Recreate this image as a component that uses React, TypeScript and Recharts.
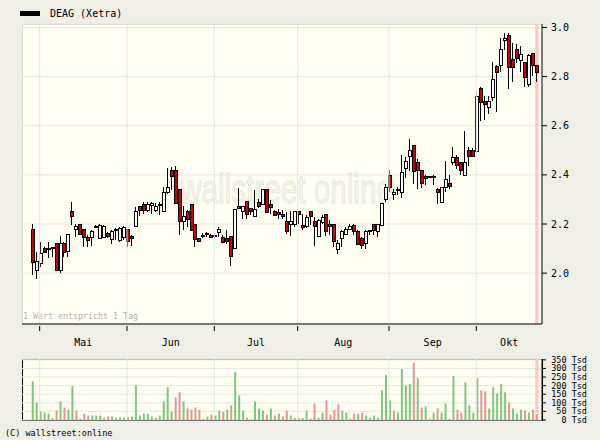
import React from 'react';
import {
  ComposedChart,
  Bar,
  XAxis,
  YAxis,
  CartesianGrid,
  ReferenceLine,
  ReferenceArea,
  Cell,
} from 'recharts';

// Tageskerzen DEAG (Xetra), ein Wert pro Handelstag
const opens = [
  2.178, 2.009, 2.039, 2.1, 2.101, 2.103, 2.12, 2.012, 2.12, 2.089,
  2.252, 2.177, 2.198, 2.177, 2.145, 2.147, 2.191, 2.141, 2.147, 2.161,
  2.138, 2.178, 2.131, 2.147, 2.177, 2.15, 2.188, 2.272, 2.279, 2.256,
  2.276, 2.253, 2.281, 2.249, 2.327, 2.418, 2.418, 2.34, 2.211, 2.252,
  2.279, 2.198, 2.141, 2.153, 2.156, 2.153, 2.153, 2.165, 2.147, 2.143,
  2.15, 2.1, 2.272, 2.251, 2.291, 2.264, 2.231, 2.288, 2.28, 2.339,
  2.279, 2.251, 2.245, 2.239, 2.211, 2.198, 2.198, 2.249, 2.195, 2.188,
  2.249, 2.211, 2.15, 2.208, 2.238, 2.198, 2.198, 2.097, 2.141, 2.157,
  2.177, 2.195, 2.17, 2.141, 2.12, 2.168, 2.198, 2.168, 2.195, 2.3,
  2.398, 2.319, 2.342, 2.327, 2.427, 2.476, 2.519, 2.452, 2.417, 2.394,
  2.388, 2.388, 2.341, 2.287, 2.348, 2.364, 2.449, 2.469, 2.452, 2.398,
  2.498, 2.498, 2.496, 2.753, 2.698, 2.675, 2.715, 2.841, 2.847, 2.945,
  2.968, 2.868, 2.909, 2.867, 2.857, 2.766, 2.895, 2.847,
];
const highs = [
  2.199, 2.086, 2.127, 2.107, 2.127, 2.107, 2.12, 2.151, 2.127, 2.161,
  2.288, 2.202, 2.198, 2.181, 2.154, 2.177, 2.195, 2.198, 2.195, 2.168,
  2.174, 2.184, 2.188, 2.191, 2.181, 2.154, 2.269, 2.272, 2.288, 2.288,
  2.289, 2.285, 2.288, 2.35, 2.429, 2.431, 2.438, 2.34, 2.272, 2.256,
  2.279, 2.202, 2.142, 2.163, 2.168, 2.161, 2.16, 2.188, 2.154, 2.174,
  2.15, 2.258, 2.348, 2.275, 2.291, 2.264, 2.337, 2.303, 2.339, 2.339,
  2.299, 2.258, 2.262, 2.256, 2.249, 2.253, 2.253, 2.253, 2.242, 2.235,
  2.253, 2.228, 2.222, 2.235, 2.238, 2.215, 2.198, 2.134, 2.174, 2.188,
  2.198, 2.198, 2.174, 2.147, 2.174, 2.177, 2.201, 2.201, 2.283, 2.364,
  2.418, 2.344, 2.35, 2.479, 2.472, 2.546, 2.519, 2.465, 2.417, 2.398,
  2.397, 2.398, 2.348, 2.348, 2.458, 2.398, 2.512, 2.479, 2.452, 2.58,
  2.512, 2.508, 2.742, 2.759, 2.719, 2.719, 2.86, 2.848, 2.959, 2.976,
  2.976, 2.938, 2.932, 2.925, 2.86, 2.891, 2.895, 2.847,
];
const lows = [
  1.992, 1.978, 2.026, 2.08, 2.06, 2.067, 2.009, 1.999, 2.066, 2.066,
  2.195, 2.147, 2.154, 2.107, 2.107, 2.11, 2.185, 2.137, 2.145, 2.141,
  2.12, 2.134, 2.127, 2.134, 2.107, 2.11, 2.188, 2.231, 2.242, 2.249,
  2.242, 2.249, 2.235, 2.249, 2.323, 2.337, 2.28, 2.157, 2.177, 2.188,
  2.172, 2.107, 2.125, 2.141, 2.148, 2.143, 2.143, 2.147, 2.124, 2.12,
  2.028, 2.097, 2.261, 2.221, 2.221, 2.235, 2.227, 2.266, 2.276, 2.248,
  2.242, 2.233, 2.221, 2.222, 2.161, 2.15, 2.188, 2.199, 2.177, 2.185,
  2.195, 2.11, 2.15, 2.201, 2.15, 2.154, 2.107, 2.079, 2.107, 2.154,
  2.174, 2.154, 2.114, 2.097, 2.097, 2.154, 2.154, 2.147, 2.195, 2.289,
  2.33, 2.296, 2.319, 2.305, 2.387, 2.414, 2.364, 2.344, 2.346, 2.36,
  2.386, 2.36, 2.283, 2.287, 2.33, 2.344, 2.441, 2.425, 2.398, 2.395,
  2.438, 2.476, 2.496, 2.621, 2.625, 2.648, 2.702, 2.654, 2.817, 2.908,
  2.749, 2.776, 2.857, 2.817, 2.756, 2.756, 2.803, 2.776,
];
const closes = [
  2.045, 2.046, 2.08, 2.086, 2.097, 2.1, 2.012, 2.12, 2.086, 2.157,
  2.231, 2.191, 2.158, 2.147, 2.134, 2.17, 2.189, 2.195, 2.191, 2.151,
  2.17, 2.175, 2.181, 2.184, 2.127, 2.141, 2.252, 2.253, 2.256, 2.279,
  2.285, 2.272, 2.274, 2.327, 2.348, 2.395, 2.285, 2.211, 2.231, 2.219,
  2.175, 2.138, 2.127, 2.149, 2.16, 2.147, 2.15, 2.177, 2.126, 2.128,
  2.069, 2.258, 2.264, 2.272, 2.24, 2.251, 2.261, 2.272, 2.339, 2.248,
  2.266, 2.236, 2.238, 2.229, 2.168, 2.211, 2.249, 2.239, 2.185, 2.228,
  2.231, 2.191, 2.215, 2.228, 2.168, 2.188, 2.127, 2.12, 2.168, 2.177,
  2.191, 2.168, 2.116, 2.114, 2.168, 2.174, 2.174, 2.198, 2.283, 2.348,
  2.348, 2.327, 2.337, 2.411, 2.456, 2.498, 2.414, 2.418, 2.366, 2.384,
  2.395, 2.395, 2.327, 2.348, 2.381, 2.354, 2.469, 2.438, 2.417, 2.452,
  2.476, 2.476, 2.719, 2.695, 2.688, 2.698, 2.787, 2.817, 2.909, 2.956,
  2.837, 2.837, 2.873, 2.888, 2.796, 2.887, 2.847, 2.817,
];
// Umsatz in Tsd Stück
const volumes = [
  226, 102, 49, 43, 37, 10, 55, 108, 73, 61,
  197, 55, 8, 37, 26, 26, 26, 26, 14, 20,
  20, 14, 16, 14, 16, 20, 203, 26, 37, 37,
  20, 14, 26, 108, 191, 49, 132, 161, 108, 67,
  61, 73, 61, 8, 20, 31, 26, 55, 49, 61,
  85, 279, 144, 55, 14, 2, 108, 67, 55, 31,
  67, 26, 37, 20, 55, 26, 12, 12, 12, 55,
  8, 96, 14, 43, 114, 31, 61, 91, 55, 43,
  8, 37, 37, 43, 26, 14, 26, 14, 173, 262,
  114, 55, 43, 297, 203, 209, 333, 244, 73, 79,
  8, 43, 67, 43, 96, 8, 256, 61, 43, 220,
  85, 43, 244, 173, 167, 67, 191, 155, 209, 161,
  102, 67, 37, 61, 55, 43, 61, 31,
];
// 1 = Umsatz an steigendem Tag (gruen), 0 = fallend (rot)
const volumeUp = [
  1, 1, 1, 1, 1, 1, 0, 1, 0, 1,
  1, 0, 0, 0, 0, 1, 1, 1, 0, 0,
  1, 1, 1, 1, 0, 1, 1, 1, 1, 1,
  1, 0, 1, 1, 1, 1, 0, 0, 1, 0,
  0, 0, 0, 1, 1, 0, 1, 1, 0, 1,
  0, 1, 1, 1, 0, 1, 1, 1, 1, 0,
  1, 0, 1, 0, 0, 1, 1, 0, 0, 1,
  1, 0, 1, 1, 0, 0, 0, 0, 1, 1,
  1, 0, 1, 0, 1, 1, 1, 1, 1, 1,
  1, 0, 1, 1, 1, 1, 0, 1, 0, 1,
  1, 1, 0, 1, 1, 0, 1, 0, 0, 1,
  1, 1, 1, 0, 0, 1, 1, 1, 1, 1,
  0, 1, 1, 1, 0, 1, 0, 0,
];

const monthLabels = ['Mai', 'Jun', 'Jul', 'Aug', 'Sep', 'Okt'];
const monthStarts = [1.75, 23.75, 45.75, 66.75, 89.75, 111.75];
const priceTicks = [2.0, 2.2, 2.4, 2.6, 2.8, 3.0];
const volumeTicks = [0, 50, 100, 150, 200, 250, 300, 350];

const X_DOMAIN: [number, number] = [-2.7, 128.3];
const FONT = "'DejaVu Sans Mono', monospace";
const BG = '#efefe7';
const PLOT_BG = '#fffff2';
const GRID = '#e6e6e2';

const monthMids = monthStarts.map((s, i) =>
  (s + (i + 1 < monthStarts.length ? monthStarts[i + 1] : X_DOMAIN[1])) / 2,
);

const rows = opens.map((o, i) => ({
  idx: i,
  open: o,
  high: highs[i],
  low: lows[i],
  close: closes[i],
  volume: volumes[i],
  up: volumeUp[i] === 1,
}));

const lastIdx = rows.length - 1;

const Candle = (props: any) => {
  const { x, y, width, height, payload } = props;
  if (height == null || !payload) return null;
  const { open, close, high, low } = payload;
  const cx = Math.floor(x + width / 2) + 0.5;
  const k = height / (high - low);
  const top = y + (high - Math.max(open, close)) * k;
  const bot = y + (high - Math.min(open, close)) * k;
  const rising = close >= open;
  return (
    <g shapeRendering="crispEdges">
      <line x1={cx} x2={cx} y1={y} y2={y + height} stroke="#000" strokeWidth={1} />
      <rect
        x={cx - 1.5}
        y={top}
        width={3}
        height={Math.max(bot - top, 1)}
        fill={rising ? '#ffffff' : '#cc0000'}
        stroke="#000"
        strokeWidth={1}
      />
    </g>
  );
};

const MonthTick = (props: any) => {
  const { x, y, payload } = props;
  const s = monthStarts.indexOf(payload.value);
  if (s >= 0) {
    return <line x1={x} x2={x} y1={y} y2={y + 5} stroke="#000" />;
  }
  const m = monthMids.indexOf(payload.value);
  return (
    <text x={x} y={y + 20} textAnchor="middle" fontSize={10} fontFamily={FONT} fill="#000">
      {monthLabels[m]}
    </text>
  );
};

const VolumeTick = (props: any) => {
  const { y, payload } = props;
  return (
    <text x={587} y={y} dy={3} textAnchor="end" fontSize={8.5} fontFamily={FONT} fill="#000">
      {payload.value} Tsd
    </text>
  );
};

export default function App() {
  return (
    <div
      style={{
        position: 'absolute',
        left: 0,
        top: 0,
        width: 600,
        height: 440,
        background: BG,
        fontFamily: FONT,
        overflow: 'hidden',
      }}
    >
      {/* Legende */}
      <div style={{ position: 'absolute', left: 20, top: 11, width: 20, height: 5, background: '#000' }} />
      <div style={{ position: 'absolute', left: 50, top: 7, fontSize: 10, lineHeight: '14px', color: '#000' }}>
        DEAG (Xetra)
      </div>

      {/* Hintergrund Kursbereich mit Wasserzeichen */}
      <div
        style={{
          position: 'absolute',
          left: 22,
          top: 24,
          width: 520,
          height: 300,
          background: PLOT_BG,
          borderTop: '1px solid #d6d6d0',
          borderLeft: '1px solid #d6d6d0',
          boxSizing: 'border-box',
        }}
      >
        <svg width={520} height={300} style={{ position: 'absolute', left: -1, top: -1 }}>
          <text
            x={158}
            y={179}
            fontSize={40}
            fontFamily="'Liberation Sans', sans-serif"
            textLength={213}
            lengthAdjust="spacingAndGlyphs"
            fill="#f5f5ed"
            stroke="#e8e8e0"
            strokeWidth={1}
          >
            wallstreet online
          </text>
          <text x={1} y={295} fontSize={8.3} fontFamily={FONT} fill="#b4b4b4">
            1 Wert entspricht 1 Tag
          </text>
        </svg>
      </div>

      {/* Hintergrund Umsatzbereich */}
      <div
        style={{
          position: 'absolute',
          left: 22,
          top: 359,
          width: 521,
          height: 62,
          background: PLOT_BG,
          border: '1px solid #000',
          boxSizing: 'border-box',
        }}
      />

      <div style={{ position: 'absolute', left: 0, top: 0 }}>
        <ComposedChart width={600} height={350} data={rows} margin={{ top: 24, right: 0, bottom: 0, left: 22 }}>
          <CartesianGrid vertical={false} stroke={GRID} />
          {monthStarts.map((m) => (
            <ReferenceLine key={m} x={m} stroke={GRID} />
          ))}
          <ReferenceArea x1={lastIdx - 0.42} x2={lastIdx + 0.42} fill="#ffc8c8" fillOpacity={1} stroke="none" />
          <XAxis
            dataKey="idx"
            type="number"
            domain={X_DOMAIN}
            allowDataOverflow
            ticks={[...monthStarts, ...monthMids]}
            interval={0}
            tick={<MonthTick />}
            tickLine={false}
            tickSize={0}
            axisLine={{ stroke: '#000' }}
            height={26}
          />
          <YAxis
            orientation="right"
            type="number"
            domain={[1.793, 3.014]}
            allowDataOverflow
            ticks={priceTicks}
            interval={0}
            tickFormatter={(v: number) => v.toFixed(1)}
            width={58}
            axisLine={{ stroke: '#000' }}
            tickLine={{ stroke: '#000' }}
            tickSize={5}
            tickMargin={4}
            tick={{ fontSize: 10, fill: '#000', fontFamily: FONT }}
          />
          <Bar
            dataKey={(d: any) => [d.low, d.high]}
            barSize={3}
            shape={(p: any) => <Candle {...p} />}
            isAnimationActive={false}
          />
        </ComposedChart>
      </div>

      <div style={{ position: 'absolute', left: 0, top: 350 }}>
        <ComposedChart width={600} height={80} data={rows} margin={{ top: 9, right: 0, bottom: 10, left: 22 }}>
          <CartesianGrid vertical={false} stroke={GRID} />
          {monthStarts.map((m) => (
            <ReferenceLine key={m} x={m} stroke={GRID} />
          ))}
          <ReferenceArea x1={lastIdx - 0.42} x2={lastIdx + 0.42} fill="#ffc8c8" fillOpacity={1} stroke="none" />
          <XAxis dataKey="idx" type="number" domain={X_DOMAIN} allowDataOverflow hide />
          <YAxis
            orientation="right"
            type="number"
            domain={[0, 355]}
            allowDataOverflow
            ticks={volumeTicks}
            interval={0}
            width={58}
            axisLine={{ stroke: '#000' }}
            tickLine={{ stroke: '#000' }}
            tickSize={4}
            tick={<VolumeTick />}
          />
          <Bar dataKey="volume" barSize={2} isAnimationActive={false}>
            {rows.map((r) => (
              <Cell key={r.idx} fill={r.up ? '#7fc67f' : '#e59595'} />
            ))}
          </Bar>
        </ComposedChart>
      </div>

      <div style={{ position: 'absolute', left: 5, top: 428, fontSize: 8.5, lineHeight: '11px', color: '#000' }}>
        (C) wallstreet:online
      </div>
    </div>
  );
}
